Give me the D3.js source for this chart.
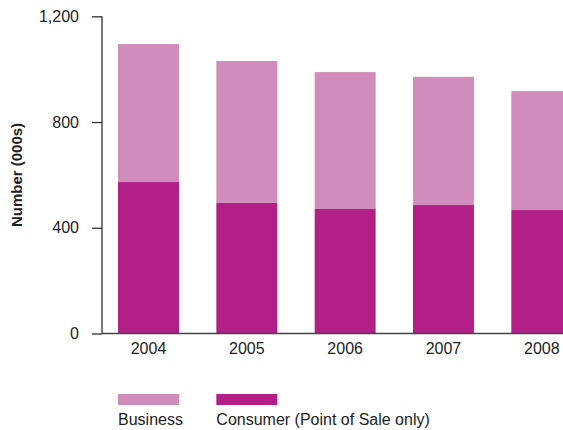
<!DOCTYPE html>
<html>
<head>
<meta charset="utf-8">
<script src="https://cdn.jsdelivr.net/npm/d3@7"></script>
<style>
  body { margin: 0; background: #fff; }
  text { font-family: "Liberation Sans", Arial, sans-serif; fill: #222; }
</style>
</head>
<body>
<svg width="563" height="430"></svg>
<script>
var years = ["2004", "2005", "2006", "2007", "2008"];
var consumer = [573, 494, 471, 486, 467];
var business = [522, 537, 518, 485, 450];
var yTicks = [0, 400, 800, 1200];
var seriesNames = ["Business", "Consumer (Point of Sale only)"];
var colors = { business: "#d08cbb", consumer: "#b11f87" };

var svg = d3.select("svg"),
    margin = { left: 102, top: 16.3, bottom: 333.5 };

var x = d3.scaleBand()
    .domain(years)
    .range([102, 588.3])
    .paddingInner(0.38)
    .paddingOuter(0.163);

var y = d3.scaleLinear()
    .domain([0, 1200])
    .range([margin.bottom, margin.top]);

var rows = years.map(function(yr, i) {
  return { year: yr, consumer: consumer[i], business: business[i] };
});
var stack = d3.stack().keys(["consumer", "business"])(rows);

svg.append("g").selectAll("g")
    .data(stack)
  .enter().append("g")
    .attr("fill", function(d) { return colors[d.key]; })
  .selectAll("rect")
    .data(function(d) { return d; })
  .enter().append("rect")
    .attr("x", function(d) { return x(d.data.year); })
    .attr("width", x.bandwidth())
    .attr("y", function(d) { return y(d[1]); })
    .attr("height", function(d) { return y(d[0]) - y(d[1]); });

// y axis
var yAxis = svg.append("g")
    .attr("transform", "translate(102,0)")
    .call(d3.axisLeft(y).tickValues(yTicks).tickFormat(d3.format(",")).tickSize(10).tickPadding(13));
yAxis.select(".domain").attr("stroke", "#333").attr("stroke-width", 1.3).attr("d", "M0," + y(1200) + "V" + y(0));
yAxis.selectAll(".tick line").attr("stroke", "#333").attr("stroke-width", 1.3);
yAxis.selectAll(".tick text").attr("font-size", 16).attr("font-family", "Liberation Sans, Arial, sans-serif").attr("fill", "#222");

// x axis line
svg.append("line")
    .attr("x1", 102).attr("x2", 563)
    .attr("y1", y(0)).attr("y2", y(0))
    .attr("stroke", "#444").attr("stroke-width", 1.3);

svg.append("g").selectAll("text")
    .data(years)
  .enter().append("text")
    .attr("x", function(d) { return x(d) + x.bandwidth() / 2; })
    .attr("y", 353.5)
    .attr("text-anchor", "middle")
    .attr("font-size", 16)
    .text(function(d) { return d; });

svg.append("text")
    .attr("transform", "translate(22,175) rotate(-90)")
    .attr("text-anchor", "middle")
    .attr("font-size", 15)
    .attr("font-weight", "bold")
    .text("Number (000s)");

// legend
var legend = svg.append("g").selectAll("g")
    .data(seriesNames)
  .enter().append("g")
    .attr("transform", function(d, i) { return "translate(" + x(years[i]) + ",394)"; });

legend.append("rect")
    .attr("width", x.bandwidth())
    .attr("height", 11)
    .attr("fill", function(d, i) { return i === 0 ? colors.business : colors.consumer; });

legend.append("text")
    .attr("y", 31)
    .attr("font-size", 16)
    .text(function(d) { return d; });
</script>
</body>
</html>
